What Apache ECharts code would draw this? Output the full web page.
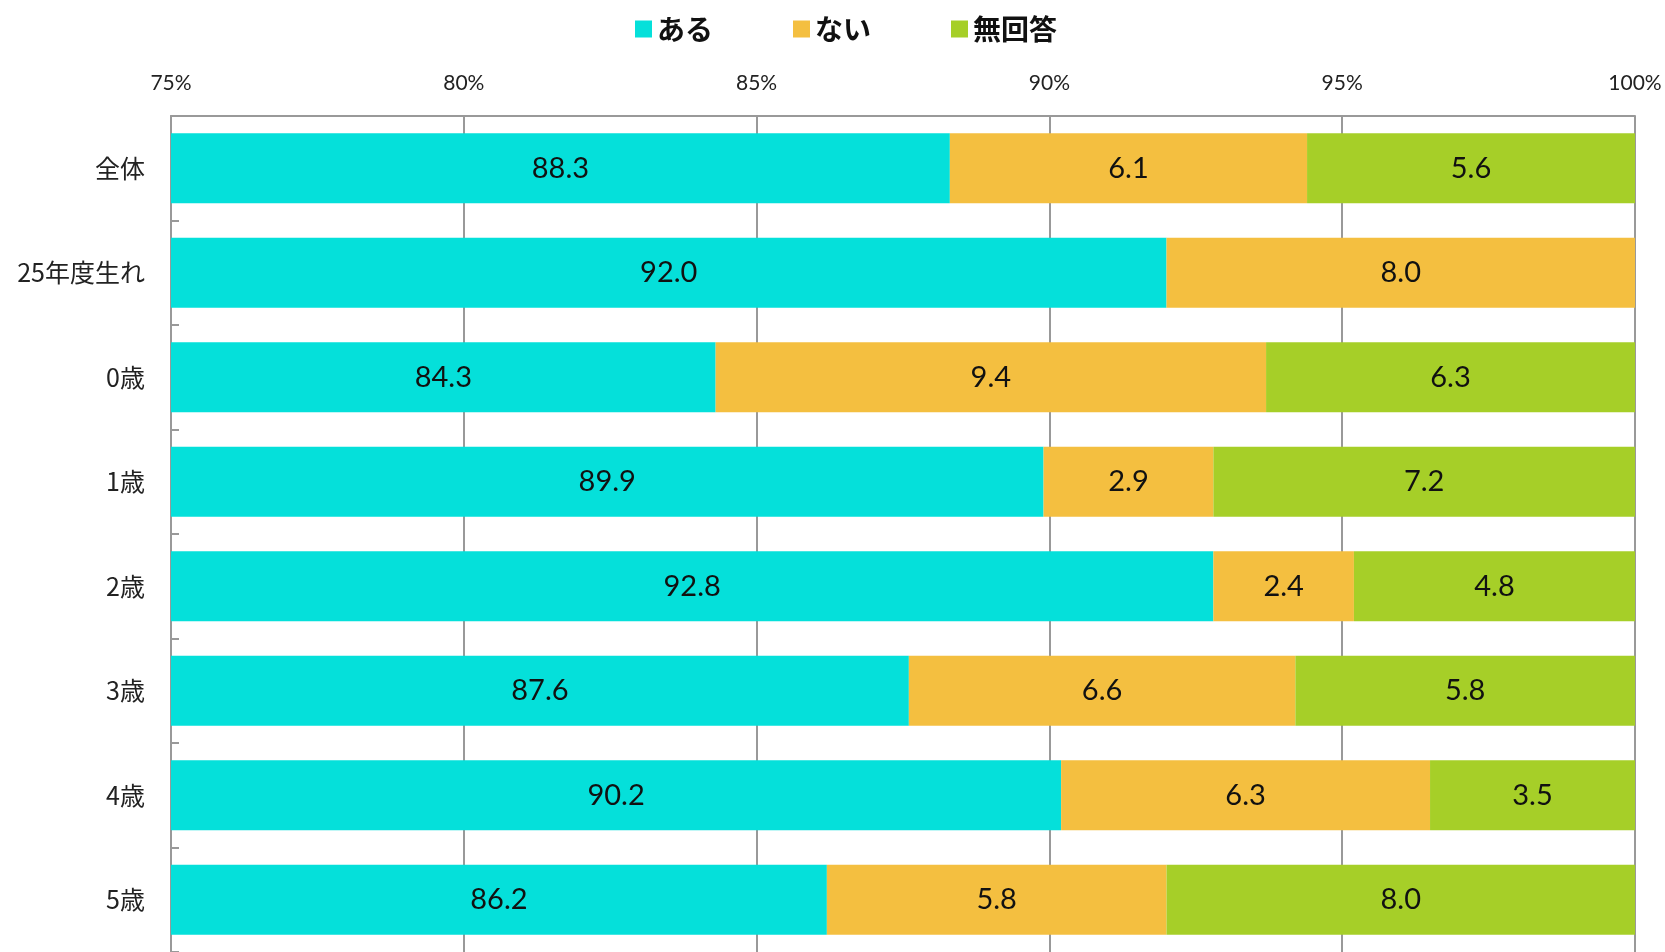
<!DOCTYPE html>
<html>
<head>
<meta charset="utf-8">
<script src="https://cdn.jsdelivr.net/npm/echarts@6/dist/echarts.min.js"></script>
<style>
  html, body { margin: 0; padding: 0; background: #fff; }
  #chart { width: 1665px; height: 952px; }
</style>
</head>
<body>
<div id="chart"></div>
<script>
const categories = ["全体", "25年度生れ", "0歳", "1歳", "2歳", "3歳", "4歳", "5歳"];
const aru = [88.3, 92.0, 84.3, 89.9, 92.8, 87.6, 90.2, 86.2];
const nai = [6.1, 8.0, 9.4, 2.9, 2.4, 6.6, 6.3, 5.8];
const mukaitou = [5.6, null, 6.3, 7.2, 4.8, 5.8, 3.5, 8.0];

const chart = echarts.init(document.getElementById("chart"));

const labelStyle = {
  show: true,
  position: "inside",
  color: "#111",
  fontSize: 29,
  fontFamily: "Lato, 'Noto Sans', sans-serif",
  formatter: (p) => p.value == null ? "" : p.value.toFixed(1)
};

function makeSeries(name, data, color) {
  return {
    name: name,
    type: "bar",
    stack: "total",
    data: data,
    barCategoryGap: "33%",
    itemStyle: { color: color },
    label: labelStyle
  };
}

chart.setOption({
  animation: false,
  legend: {
    top: 10,
    left: 630,
    itemWidth: 17,
    itemHeight: 17,
    itemGap: 80,
    icon: "rect",
    textStyle: {
      fontSize: 28,
      fontWeight: "bold",
      color: "#111",
      fontFamily: "'Noto Sans CJK JP', sans-serif"
    },
    data: ["ある", "ない", "無回答"]
  },
  grid: { left: 171, right: 30, top: 116, height: 840 },
  xAxis: {
    type: "value",
    position: "top",
    min: 75,
    max: 100,
    interval: 5,
    axisLine: { show: true, lineStyle: { color: "#999", width: 2 } },
    axisTick: { show: false },
    axisLabel: {
      formatter: "{value}%",
      fontSize: 21,
      color: "#222",
      margin: 22,
      fontFamily: "Lato, 'Noto Sans', sans-serif"
    },
    splitLine: { show: true, lineStyle: { color: "#999", width: 2 } }
  },
  yAxis: {
    type: "category",
    data: categories,
    inverse: true,
    axisLine: { show: true, lineStyle: { color: "#999", width: 2 } },
    axisTick: { show: true, inside: true, length: 8, lineStyle: { color: "#999", width: 2 } },
    axisLabel: {
      fontSize: 25,
      color: "#222",
      margin: 26,
      fontFamily: "'Noto Sans CJK JP', sans-serif"
    }
  },
  series: [
    makeSeries("ある", aru, "#05e0da"),
    makeSeries("ない", nai, "#f4bf40"),
    makeSeries("無回答", mukaitou, "#a6cf28")
  ]
});
</script>
</body>
</html>
